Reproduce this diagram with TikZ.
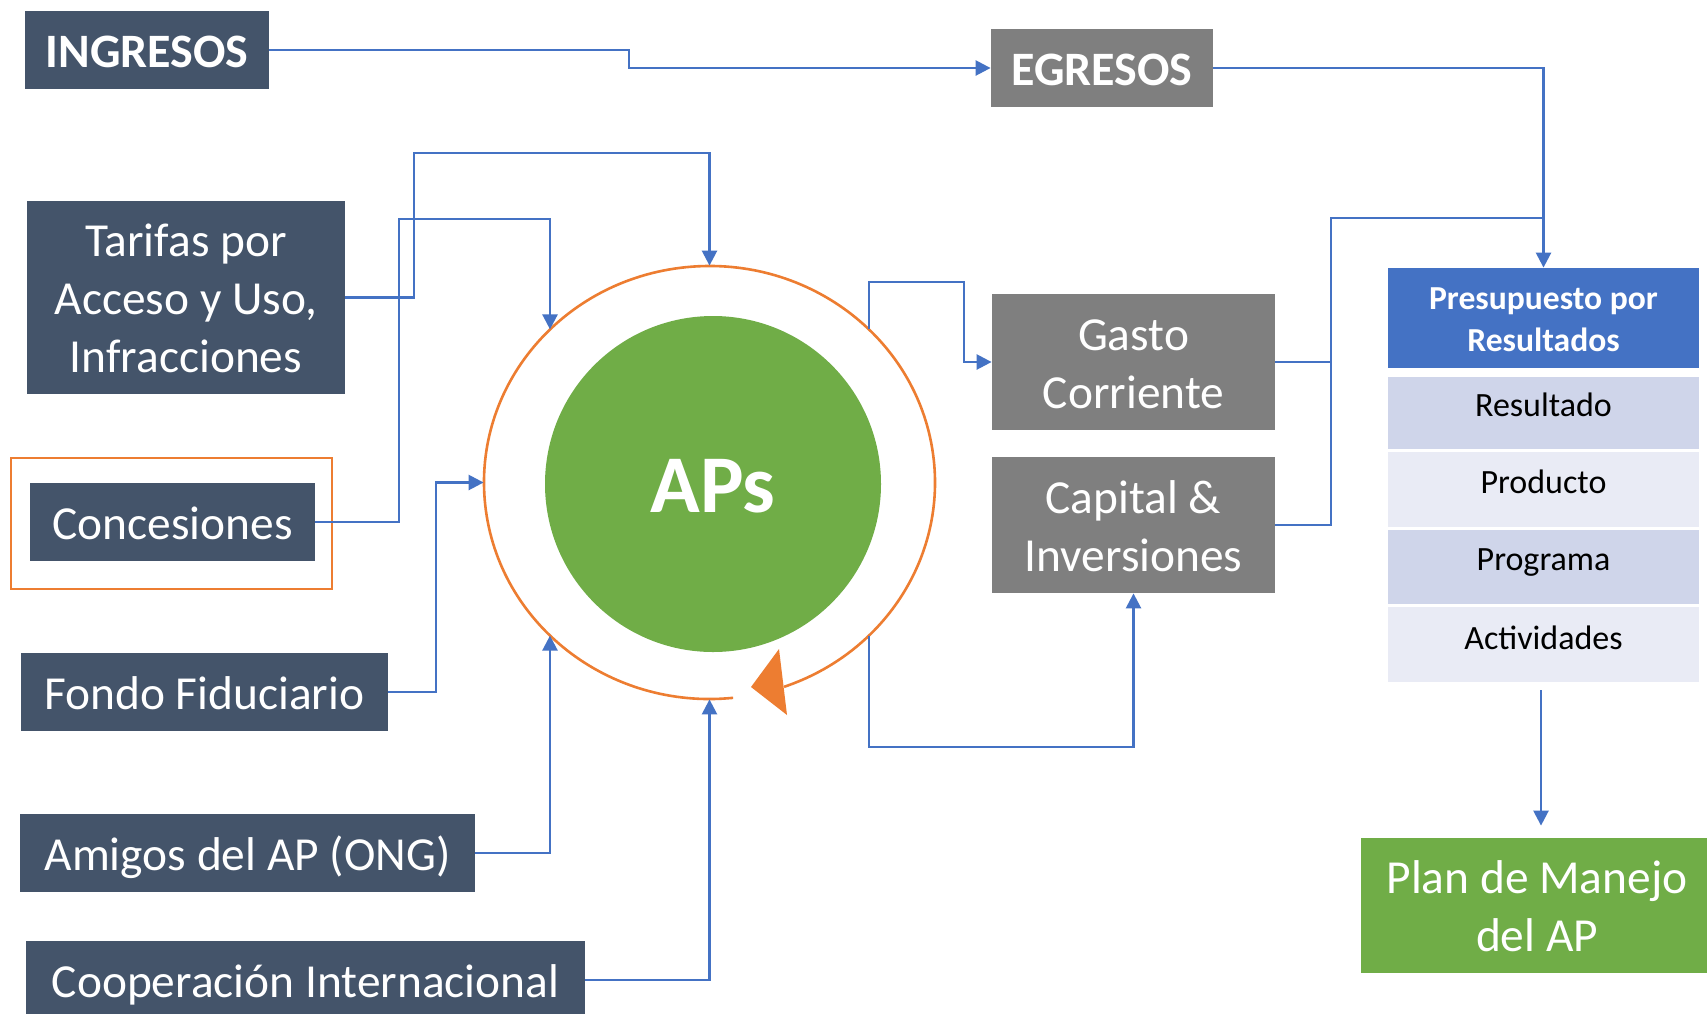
\documentclass[tikz,border=0pt]{standalone}
\usepackage{fontspec}
\setmainfont{Carlito}
\usetikzlibrary{arrows.meta,shapes.geometric}
\definecolor{dk}{HTML}{44546A}
\definecolor{gy}{HTML}{7F7F7F}
\definecolor{gr}{HTML}{70AD47}
\definecolor{bl}{HTML}{4472C4}
\definecolor{org}{HTML}{ED7D31}
\definecolor{rowa}{HTML}{CFD5EA}
\definecolor{rowb}{HTML}{E9EBF5}
\newcommand{\ms}{\rule[-0.2\baselineskip]{0pt}{\baselineskip}}
\begin{document}
\begin{tikzpicture}[x=0.5pt,y=-0.5pt,
  box/.style={rectangle, inner sep=0pt, text=white, align=center, font=\fontsize{23.7pt}{29pt}\selectfont},
  dkbox/.style={box, fill=dk},
  gybox/.style={box, fill=gy},
  conn/.style={draw=bl, line width=1.25pt, -{Triangle[length=7.5pt,width=7.5pt]}},
  wire/.style={draw=bl, line width=1.25pt},
  rowbox/.style={rectangle, inner sep=0pt, anchor=north, minimum width=155.5pt, font=\fontsize{17pt}{21pt}\selectfont, text=black}]
\fill[white] (0,0) rectangle (1707,1013);
\useasboundingbox (0,0) rectangle (1707,1013);
\clip (0,0) rectangle (1707,1013);

% left boxes
\node[dkbox, minimum width=122pt, minimum height=39pt, font=\bfseries\fontsize{24pt}{29pt}\selectfont] (ing) at (147,50) {\ms INGRESOS};
\node[dkbox, minimum width=159pt, minimum height=96.5pt] (tar) at (186,297.5) {\ms Tarifas por\\\ms Acceso y Uso,\\\ms Infracciones};
\node[rectangle, draw=org, line width=1.2pt, minimum width=160.5pt, minimum height=65.5pt, inner sep=0pt] (concframe) at (171.5,523.5) {};
\node[dkbox, minimum width=142.5pt, minimum height=39pt] (conc) at (172.5,522) {\ms Concesiones};
\node[dkbox, minimum width=183.5pt, minimum height=39pt] (fondo) at (204.5,692) {\ms Fondo Fiduciario};
\node[dkbox, minimum width=227.5pt, minimum height=39pt] (amigos) at (247.5,853) {\ms Amigos del AP (ONG)};
\node[dkbox, minimum width=279.5pt, minimum height=39pt] (coop) at (305.5,980) {\ms Cooperación Internacional};

% centre
\node[ellipse, draw=none, minimum width=225.5pt, minimum height=216.5pt, inner sep=0pt] (ring) at (709.5,482.5) {};
\node[circle, fill=gr, minimum size=168pt, inner sep=0pt] (aps) at (713,484) {};
\node[anchor=base, inner sep=0pt, text=white, font=\bfseries\fontsize{41pt}{49pt}\selectfont] (apst) at (713,512) {APs};
\draw[org, line width=1.3pt] ([shift={(84:225.5 and 216.5)}]709.5,482.5) arc[start angle=84, end angle=430.7, x radius=225.5, y radius=216.5];
\fill[org] (751,687) -- (779,649) -- (787,715) -- cycle;
\coordinate (rnw) at (550,329.4);
\coordinate (rsw) at (550,635.6);
\coordinate (rne) at (869,329.4);
\coordinate (rse) at (869,635.6);

% right boxes
\node[gybox, minimum width=111pt, minimum height=39pt, font=\bfseries\fontsize{24pt}{29pt}\selectfont] (egr) at (1102,68) {\ms EGRESOS};
\node[gybox, minimum width=141.5pt, minimum height=68pt] (gasto) at (1133.5,362) {\ms Gasto\\\ms Corriente};
\node[gybox, minimum width=141.5pt, minimum height=68pt] (cap) at (1133.5,525) {\ms Capital \&\\\ms Inversiones};

% table
\node[rectangle, fill=bl, inner sep=0pt, minimum width=155.5pt, minimum height=50pt, text=white, align=center, font=\bfseries\fontsize{16.8pt}{21pt}\selectfont] (pres) at (1543.5,318) {\ms Presupuesto por\\\ms Resultados};
\node[rowbox, fill=rowa, text height=19.75pt, text depth=16.25pt] (r1) at (1543.5,377) {Resultado};
\node[rowbox, fill=rowb, text height=20.75pt, text depth=16.75pt] (r2) at (1543.5,452) {Producto};
\node[rowbox, fill=rowa, text height=20.25pt, text depth=16.75pt] (r3) at (1543.5,530) {Programa};
\node[rowbox, fill=rowb, text height=21.25pt, text depth=16.25pt] (r4) at (1543.5,607) {Actividades};
\node[box, fill=gr, minimum width=176pt, minimum height=67.5pt] (plan) at (1537,905.5) {\ms Plan de Manejo\\\ms del AP};

% connectors
\draw[conn] (ing.east) -- (629,50) |- (egr.west);
\draw[conn] (egr.east) -| (pres.north);
\coordinate (jn) at (1543.5,218);
\draw[wire] (gasto.east) -| (1331,218) -- (jn);
\draw[wire] (cap.east) -| (1331,362);
\draw[conn] (tar.east) -| (414,153) -| (ring.north);
\draw[conn] (conc.east) -| (399,219) -| (rnw);
\draw[conn] (fondo.east) -- (436,692) |- (ring.west);
\draw[conn] (amigos.east) -| (rsw);
\draw[conn] (coop.east) -| (ring.south);
\draw[conn] (rne) |- (964,282) |- (gasto.west);
\draw[conn] (rse) -- (869,747) -| (cap.south);
\coordinate (tb) at (1541,690);
\draw[conn, shorten >=6pt] (tb) -- (tb |- plan.north);
\end{tikzpicture}
\end{document}
